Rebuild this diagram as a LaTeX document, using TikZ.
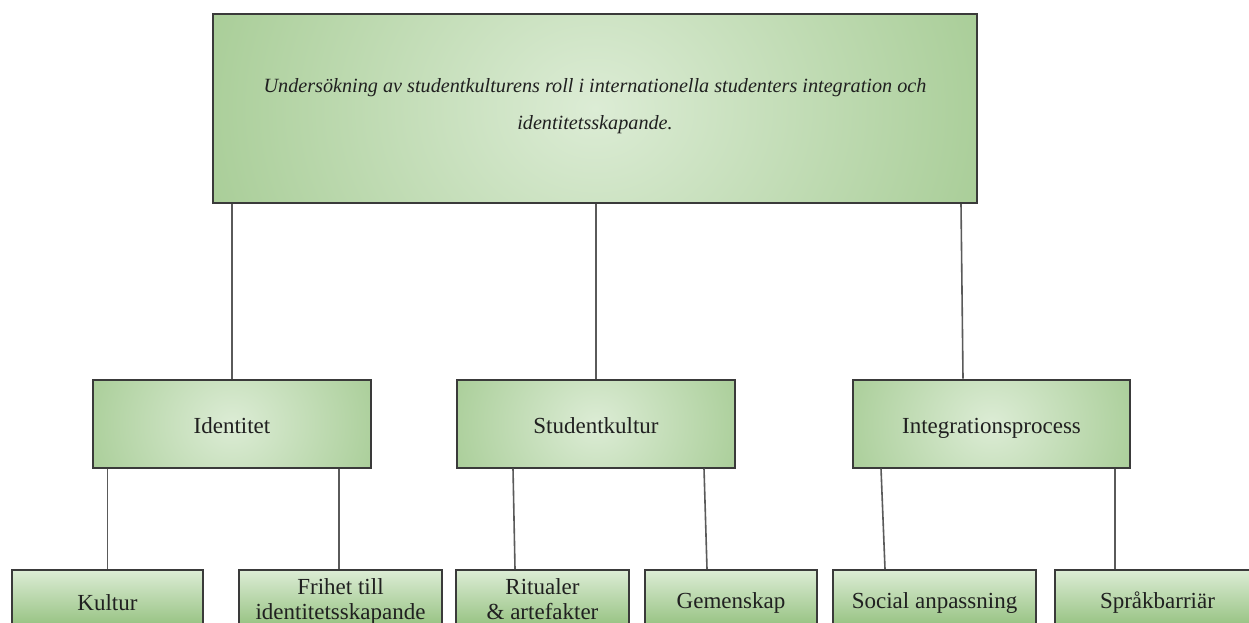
\documentclass[tikz,border=0pt]{standalone}
\usepackage{fontspec}
\setmainfont{Liberation Serif}
\usetikzlibrary{calc}
\definecolor{lite}{HTML}{DCECD5}
\definecolor{dark}{HTML}{8ABB73}
\definecolor{edgec}{HTML}{3A3A3A}
\definecolor{ink}{HTML}{202020}
\definecolor{linec}{HTML}{5A5A5A}
\pgfdeclareradialshading{glow}{\pgfpoint{0bp}{0bp}}{color(0bp)=(lite); color(38bp)=(dark); color(50bp)=(dark)}
\tikzset{
  glowbox/.style 2 args={draw=edgec, line width=2pt, text=ink, inner sep=0pt, fill=dark,
    path picture={\shade[shading=glow] (path picture bounding box.center) ellipse [x radius=#1, y radius=#2];}},
  topbox/.style={glowbox={425}{360}, minimum width=764pt, minimum height=189pt,
    font=\fontsize{20.2}{37}\selectfont\itshape, align=center},
  midbox/.style={glowbox={162}{145}, minimum width=278pt, minimum height=88pt,
    text height=22pt, text depth=3pt, font=\fontsize{23}{28}\selectfont},
  leafbox/.style={draw=edgec, line width=2pt, text=ink, inner sep=0pt,
    top color=lite, bottom color=dark, minimum height=66pt,
    font=\fontsize{23}{25}\selectfont, align=center},
  conn/.style={draw=linec, line width=1.6pt}
}
\begin{document}
\begin{tikzpicture}[x=1pt, y=-1pt]
\useasboundingbox (0,0) rectangle (1249,622);
\fill[white] (0,0) rectangle (1249,622);
\node[topbox] (top) at (595,108.5) {Undersökning av studentkulturens roll i internationella studenters integration och\\ identitetsskapande.\\[-27pt]\mbox{}};
\node[midbox] (id) at (232,423.5) {Identitet};
\node[midbox] (stu) at (596,423.5) {Studentkultur};
\node[midbox, minimum width=277pt] (int) at (991.5,423.5) {Integrationsprocess};
\node[leafbox, minimum width=191pt] (kul) at (107.5,603) {Kultur};
\node[leafbox, minimum width=203pt] (fri) at (340.5,603) {Frihet till\\identitetsskapande\\[-18pt]\mbox{}};
\node[leafbox, minimum width=173pt] (rit) at (542.5,603) {Ritualer\\\& artefakter\\[-18pt]\mbox{}};
\node[leafbox, minimum width=172pt] (gem) at (731,603) {Gemenskap};
\node[leafbox, minimum width=203pt] (soc) at (934.5,603) {Social anpassning};
\node[leafbox, minimum width=205pt] (spr) at (1157.5,603) {Språkbarriär};
\draw[conn] (top.south -| id.north) -- (id.north);
\draw[conn] (top.south -| stu.north) -- (stu.north);
\draw[conn] ($(top.south)+(366,0)$) -- ($(int.north)+(-28.5,0)$);
\draw[conn] (id.south -| kul.north) -- (kul.north);
\draw[conn] ($(id.south)+(107,0)$) -- ($(fri.north)+(-1.5,0)$);
\draw[conn] ($(stu.south)+(-83,0)$) -- ($(rit.north)+(-27.5,0)$);
\draw[conn] ($(stu.south)+(108,0)$) -- ($(gem.north)+(-24,0)$);
\draw[conn] ($(int.south)+(-110.5,0)$) -- ($(soc.north)+(-49.5,0)$);
\draw[conn] ($(int.south)+(123.5,0)$) -- ($(spr.north)+(-42.5,0)$);
\end{tikzpicture}
\end{document}
